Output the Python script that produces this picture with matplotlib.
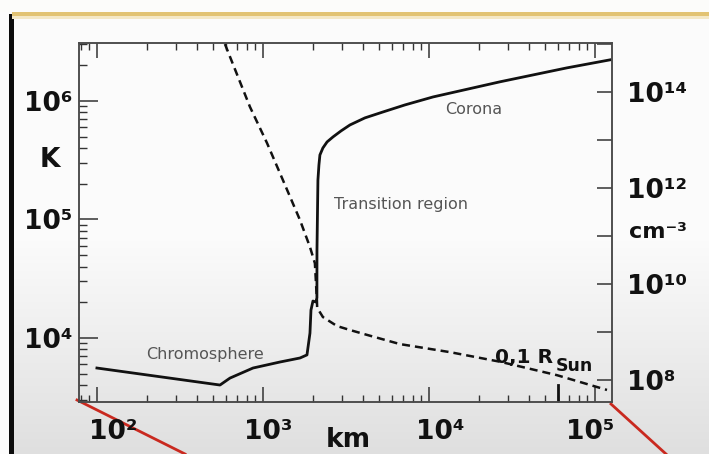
import matplotlib
matplotlib.use('Agg')
import numpy as np
import matplotlib.pyplot as plt
from matplotlib.ticker import NullFormatter, NullLocator
from matplotlib.transforms import ScaledTranslation

plt.rcParams['font.family'] = ['DejaVu Sans']

# temperature profile (solid): height above photosphere (km), temperature (K)
temp_km = [100, 551, 633, 871, 1265, 1671, 1841, 1919, 1946, 2000, 2084, 2113,
           2115, 2143, 2173, 2203, 2296, 2433, 2642, 2951, 3342, 4111, 5285, 7161,
           10570, 26800, 67700, 123000]
temp_K = [5580, 4010, 4590, 5580, 6270, 6780, 7200, 11000, 17200, 20500, 20100, 21800,
          55300, 215000, 288000, 350000, 401000, 451000, 497000, 558000, 627000, 719000,
          807000, 925000, 1.08e6, 1.45e6, 1.90e6, 2.22e6]

# density profile (dashed): height (km), density (cm^-3)
dens_km = [590, 835, 1057, 1318, 1671, 1919, 2055, 2113, 2120, 2296, 2793, 3342,
           4236, 6683, 13400, 26800, 59000, 118000]
dens_cm3 = [1.0e15, 4.9e13, 8.7e12, 1.47e12, 2.15e11, 5.9e10, 2.7e10, 4.6e9, 3.2e9,
            2.05e9, 1.33e9, 1.1e9, 8.7e8, 5.6e8, 3.8e8, 2.4e8, 1.26e8, 6.2e7]

x_ticks = [1e2, 1e3, 1e4, 1e5]
x_labels = ['10²', '10³', '10⁴', '10⁵']
t_ticks = [1e4, 1e5, 1e6]
t_labels = ['10⁴', '10⁵', '10⁶']
n_ticks = [1e8, 1e9, 1e10, 1e11, 1e12, 1e13, 1e14, 1e15]
n_labels = ['10⁸', '', '10¹⁰', '', '10¹²', '', '10¹⁴', '']
rsun_tick = 6.0e4   # marked 0.1 R_sun position on the height axis

W, H = 709, 454
fig = plt.figure(figsize=(W / 100, H / 100), dpi=100)

# slide background: light gradient, black bar on the left, gold line on top
bg = fig.add_axes([0, 0, 1, 1], zorder=-10)
bg.set_xlim(0, W)
bg.set_ylim(H, 0)
bg.axis('off')
rows = np.arange(H)
shade = np.where(rows < 240, 251, 251 - (rows - 240) / (H - 240) * 28) / 255.0
bg.imshow(np.repeat(shade[:, None, None], 3, axis=2), extent=[0, W, H, 0], aspect='auto')
bg.add_patch(plt.Rectangle((0, 0), 9, H, color='#fcfcfc', lw=0))
bg.add_patch(plt.Rectangle((0, 0), W, 12, color='#fcfcfa', lw=0))
bg.add_patch(plt.Rectangle((9, 14), 5, H - 14, color='#0c0c0c', lw=0))
bg.add_patch(plt.Rectangle((12, 12), W - 12, 4, color='#e2c373', lw=0))
bg.add_patch(plt.Rectangle((12, 16), W - 12, 3, color='#f4e8c6', lw=0))
bg.plot([77, 185], [400, 454], color='#c9291f', lw=2.0)
bg.plot([611, 666], [404, 454], color='#c9291f', lw=2.0)

ax = fig.add_axes([79 / W, 1 - 402 / H, 533 / W, 359 / H])
ax.set_facecolor('none')
ax.set_xscale('log')
ax.set_yscale('log')
ax.plot(temp_km, temp_K, color='#111111', lw=2.0, solid_joinstyle='round')
ax.set_xlim(78, 126500)
ax.set_ylim(2884, 3.08e6)
ax.plot([rsun_tick, rsun_tick], [0, 0.047], transform=ax.get_xaxis_transform(),
        color='#111111', lw=2.0)

ax2 = ax.twinx()
ax2.set_yscale('log')
ax2.plot(dens_km, dens_cm3, color='#111111', lw=1.8, ls=(0, (3.2, 2.0)))
ax2.set_ylim(3.48e7, 1.05e15)

for a in (ax, ax2):
    for s in a.spines.values():
        s.set_color('#4a4a4a')
        s.set_linewidth(1.1)

ax.set_xticks(x_ticks)
ax.set_xticklabels(x_labels, fontsize=19, fontweight='bold', color='#111111')
ax.set_yticks(t_ticks)
ax.set_yticklabels(t_labels, fontsize=19, fontweight='bold', color='#111111')
ax.xaxis.set_minor_formatter(NullFormatter())
ax.yaxis.set_minor_formatter(NullFormatter())
ax.tick_params(axis='x', which='major', direction='in', length=11, width=1.1,
               color='#333333', top=True, bottom=True, pad=12)
ax.tick_params(axis='x', which='minor', direction='in', length=5, width=1.0,
               color='#333333', top=True, bottom=True)
ax.tick_params(axis='y', which='major', direction='in', length=14, width=1.1,
               color='#333333', right=False, pad=5)
ax.tick_params(axis='y', which='minor', direction='in', length=5.5, width=1.0,
               color='#333333', right=False)

ax2.set_yticks(n_ticks)
ax2.set_yticklabels(n_labels, fontsize=19, fontweight='bold', color='#111111')
ax2.yaxis.set_minor_locator(NullLocator())
ax2.tick_params(axis='y', which='major', direction='in', length=11, width=1.1,
                color='#333333', pad=11)

# nudge the slide's hand-placed tick labels
for lab, dx in zip(ax.get_xticklabels(), [16, 5, 11, -5]):
    lab.set_transform(lab.get_transform() + ScaledTranslation(dx / 100, 0, fig.dpi_scale_trans))

# region names inside the figure
ax.text(0.236, 0.131, 'Chromosphere', transform=ax.transAxes, fontsize=11.5,
        color='#555555', ha='center', va='center')
ax.text(0.604, 0.549, 'Transition region', transform=ax.transAxes, fontsize=11.5,
        color='#555555', ha='center', va='center')
ax.text(0.741, 0.816, 'Corona', transform=ax.transAxes, fontsize=11.5,
        color='#555555', ha='center', va='center')

# unit labels and the 0.1 R_sun note
fig.text(50 / W, 1 - 160 / H, 'K', fontsize=19, fontweight='bold', color='#111111',
         ha='center', va='center')
fig.text(658 / W, 1 - 232 / H, 'cm⁻³', fontsize=16, fontweight='bold', color='#111111',
         ha='center', va='center')
fig.text(348 / W, 1 - 440 / H, 'km', fontsize=19, fontweight='bold', color='#111111',
         ha='center', va='center')
fig.text(495 / W, 1 - 363 / H, '0,1 R', fontsize=14.5, fontweight='bold', color='#111111',
         ha='left', va='baseline')
fig.text(556 / W, 1 - 371 / H, 'Sun', fontsize=12.5, fontweight='bold', color='#111111',
         ha='left', va='baseline')

fig.savefig('out.png', dpi=100)
